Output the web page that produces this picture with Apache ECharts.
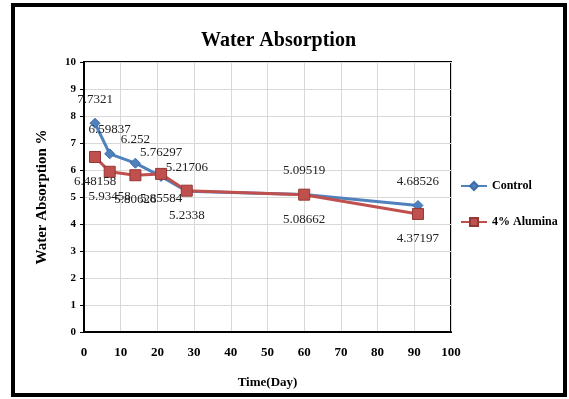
<!DOCTYPE html>
<html><head><meta charset="utf-8">
<script src="https://cdn.jsdelivr.net/npm/echarts@6/dist/echarts.min.js"></script>
<style>html,body{margin:0;padding:0;background:#fff}#c{width:569px;height:399px}</style>
</head><body><div id="c"></div>
<script>
const days = [3, 7, 14, 21, 28, 60, 91];
const control = [7.7321, 6.59837, 6.252, 5.76297, 5.21706, 5.09519, 4.68526];
const alumina = [6.48158, 5.93458, 5.80626, 5.85584, 5.2338, 5.08662, 4.37197];
const seriesNames = ['Control', '4% Alumina'];
const xTicks = {min: 0, max: 100, interval: 10};
const yTicks = {min: 0, max: 10, interval: 1};
const serif = 'Liberation Serif';

const chart = echarts.init(document.getElementById('c'));
const pairs = arr => days.map((d, i) => [d, arr[i]]);
chart.setOption({
  animation: false,
  backgroundColor: '#fff',
  graphic: [{
    type: 'rect', shape: {x: 13, y: 5, width: 552, height: 390},
    style: {fill: 'none', stroke: '#000', lineWidth: 4}, z: 100
  }],
  title: {
    text: 'Water Absorption', left: 196, top: 26,
    textStyle: {fontFamily: serif, fontWeight: 'bold', fontSize: 20, color: '#000'}
  },
  legend: {
    orient: 'vertical', left: 455, top: 175, itemGap: 24, itemWidth: 26, itemHeight: 10,
    data: seriesNames,
    textStyle: {fontFamily: serif, fontWeight: 'bold', fontSize: 12, color: '#000'}
  },
  grid: {left: 84, top: 62, width: 367, height: 270, show: true, borderColor: '#000', borderWidth: 2},
  xAxis: {
    type: 'value', min: xTicks.min, max: xTicks.max, interval: xTicks.interval,
    name: 'Time(Day)', nameLocation: 'middle', nameGap: 44,
    nameTextStyle: {fontFamily: serif, fontWeight: 'bold', fontSize: 13, color: '#000'},
    axisLine: {show: true, lineStyle: {color: '#000', width: 2}},
    axisTick: {show: false},
    axisLabel: {fontFamily: serif, fontWeight: 'bold', fontSize: 13, color: '#000', margin: 14},
    splitLine: {show: true, lineStyle: {color: '#d9d9d9', width: 1}}
  },
  yAxis: {
    type: 'value', min: yTicks.min, max: yTicks.max, interval: yTicks.interval,
    name: 'Water Absorption %', nameLocation: 'middle', nameGap: 34,
    nameTextStyle: {fontFamily: serif, fontWeight: 'bold', fontSize: 15, color: '#000'},
    axisLine: {show: true, lineStyle: {color: '#000', width: 2}},
    axisTick: {show: true, length: 4, lineStyle: {color: '#000'}},
    axisLabel: {fontFamily: serif, fontWeight: 'bold', fontSize: 11, color: '#000', margin: 8},
    splitLine: {show: true, lineStyle: {color: '#d9d9d9', width: 1}}
  },
  series: [{
    name: seriesNames[0], type: 'line', data: pairs(control),
    symbol: 'diamond', symbolSize: 10,
    lineStyle: {color: '#4F81BD', width: 3},
    itemStyle: {color: '#4F81BD', borderColor: '#3c6ca8', borderWidth: 1},
    label: {show: true, position: 'top', distance: 12, fontFamily: serif, fontSize: 13, color: '#222'},
    z: 3
  }, {
    name: seriesNames[1], type: 'line', data: pairs(alumina),
    symbol: 'rect', symbolSize: 11,
    lineStyle: {color: '#C0504D', width: 3},
    itemStyle: {color: '#C0504D', borderColor: '#953735', borderWidth: 1},
    label: {show: true, position: 'bottom', distance: 12, fontFamily: serif, fontSize: 13, color: '#222'},
    z: 4
  }]
});
</script></body></html>
